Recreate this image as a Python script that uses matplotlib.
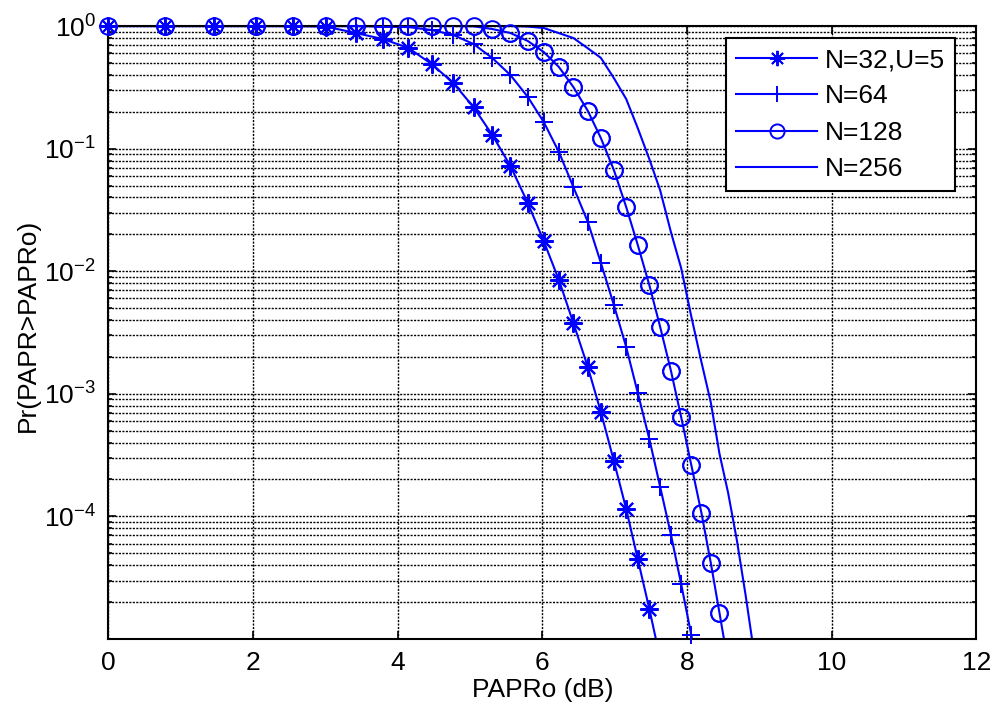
import numpy as np
import matplotlib.pyplot as plt
from matplotlib.ticker import LogLocator, NullFormatter

plt.rcParams['font.family'] = ['Liberation Sans', 'DejaVu Sans']
plt.rcParams['mathtext.fontset'] = 'custom'
plt.rcParams['mathtext.rm'] = 'Liberation Sans'

# PAPR threshold grid (dB), shared by all curves
papr_db = [0.00, 0.79, 1.46, 2.04, 2.55, 3.01, 3.42, 3.80, 4.15, 4.47, 4.77,
           5.05, 5.31, 5.56, 5.80, 6.02, 6.23, 6.43, 6.63, 6.81, 6.99, 7.16,
           7.32, 7.48, 7.63, 7.78, 7.92, 8.06, 8.20, 8.33, 8.45, 8.57, 8.69,
           8.81, 8.92]

# CCDF values Pr(PAPR > PAPRo)
ccdf_n32 = [1.0, 1.0, 1.0, 1.0, 1.0, 0.99, 0.877, 0.783, 0.662, 0.490, 0.343,
            0.218, 0.129, 0.0721, 0.0360, 0.0176, 0.00848, 0.00378, 0.00165,
            7.11e-4, 2.83e-4, 1.15e-4, 4.49e-5, 1.76e-5, 6.9e-6]
ccdf_n64 = [1.0, 1.0, 1.0, 1.0, 1.0, 1.0, 1.0, 0.99, 0.98, 0.928, 0.845,
            0.713, 0.548, 0.398, 0.264, 0.165, 0.0938, 0.0486, 0.0252, 0.0117,
            0.0053, 0.00241, 0.00102, 4.28e-4, 1.74e-4, 7.05e-5, 2.81e-5,
            1.08e-5, 4.0e-6]
ccdf_n128 = [1.0, 1.0, 1.0, 1.0, 1.0, 1.0, 1.0, 1.0, 1.0, 1.0, 1.0,
             0.995, 0.945, 0.877, 0.755, 0.614, 0.463, 0.318, 0.203, 0.122,
             0.0669, 0.0334, 0.0164, 0.00771, 0.00351, 0.00153, 6.47e-4,
             2.63e-4, 1.07e-4, 4.17e-5, 1.63e-5, 6.3e-6]
ccdf_n256 = [1.0, 1.0, 1.0, 1.0, 1.0, 1.0, 1.0, 1.0, 1.0, 1.0, 1.0, 1.0, 1.0,
             1.0, 0.99, 0.964, 0.875, 0.798, 0.658, 0.55, 0.376, 0.254, 0.147,
             0.0822, 0.0457, 0.0207, 0.0106, 0.00428, 0.00182, 8.5e-4,
             3.24e-4, 1.55e-4, 6.4e-5, 2.3e-5, 8.3e-6]

labels = ['N=32,U=5', 'N=64', 'N=128', 'N=256']
series = [ccdf_n32, ccdf_n64, ccdf_n128, ccdf_n256]
markers = [(8, 2, 0), '+', 'o', None]
msizes = [13, 13, 12, 0]

blue = '#0000ff'
fs = 19

fig = plt.figure(figsize=(9.96, 7.15), dpi=100)
ax = fig.add_axes([0.1087, 0.1063, 0.8715, 0.8573])

for lab, ys, mk, ms in zip(labels, series, markers, msizes):
    x = np.array(papr_db[:len(ys)])
    y = np.array(ys)
    ax.semilogy(x, y, color=blue, lw=1.5, marker=mk, markersize=ms,
                markerfacecolor='none', markeredgecolor=blue, mew=1.4,
                label=lab)
    if mk is not None:
        # markers sitting on the frame are drawn unclipped
        keep = y >= 1e-5
        ax.plot(x[keep], y[keep], ls='none', marker=mk, markersize=ms,
                markerfacecolor='none', markeredgecolor=blue, mew=1.4,
                clip_on=False, zorder=3)

ax.set_xlim(0, 12)
ax.set_ylim(1e-5, 1)
ax.set_xticks(np.arange(0, 13, 2))
ax.set_yticks([1e-4, 1e-3, 1e-2, 1e-1, 1])
ax.yaxis.set_minor_locator(LogLocator(base=10, subs=np.arange(2, 10)))
ax.yaxis.set_minor_formatter(NullFormatter())

grid_kw = dict(color='black', lw=1.0, dashes=(1.5, 1.0))
ax.grid(True, which='major', axis='both', **grid_kw)
ax.grid(True, which='minor', axis='y', **grid_kw)
ax.set_axisbelow(True)

ax.tick_params(which='both', direction='in', top=True, right=True,
               labelsize=fs, width=1.2, colors='black')
ax.tick_params(which='major', length=6, pad=9)
ax.tick_params(which='minor', length=3)
for sp in ax.spines.values():
    sp.set_linewidth(1.5)

ax.set_xlabel('PAPRo (dB)', fontsize=fs)
ax.set_ylabel('Pr(PAPR>PAPRo)', fontsize=fs)
ax.xaxis.set_label_coords(0.5, -0.064)
ax.yaxis.set_label_coords(-0.079, 0.512)

leg = ax.legend(loc='upper right', bbox_to_anchor=(0.9755, 0.9804),
                borderaxespad=0, fontsize=fs, fancybox=False, framealpha=1,
                edgecolor='black', handlelength=3.05, handletextpad=0.3,
                labelspacing=0.47, borderpad=0.38, markerscale=0.85)
leg.get_frame().set_linewidth(1.5)

fig.savefig('out.png', dpi=100)
